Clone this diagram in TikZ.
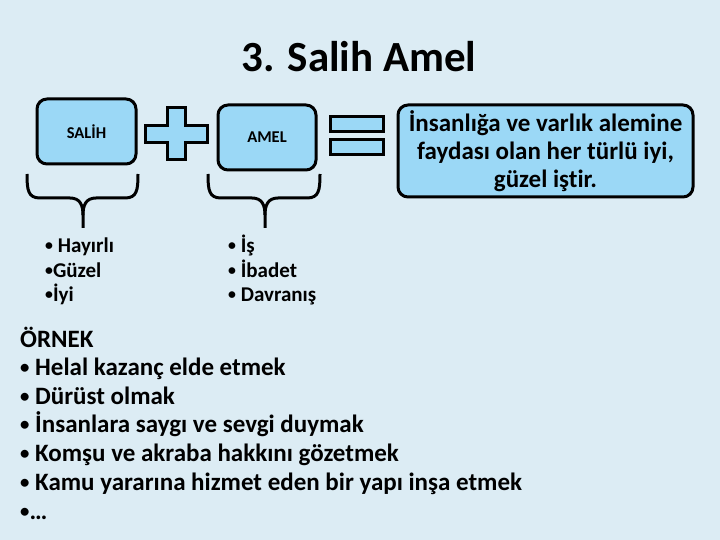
\documentclass[tikz,border=0pt]{standalone}
\usepackage{fontspec}
\setmainfont[Ligatures=NoCommon]{Carlito}
\definecolor{slidebg}{RGB}{220,236,244}
\definecolor{boxfill}{RGB}{155,216,246}
\newcommand{\dotitem}{\raisebox{0.12ex}{\scalebox{0.75}{•}}}
\tikzset{
    termbox/.style={draw=black, line width=3pt, fill=boxfill, rounded corners=10pt, inner sep=0pt},
    opshape/.style={draw=black, line width=3pt, fill=boxfill},
    bracket/.style={draw=black, line width=3pt},
    item/.style={anchor=base west, inner sep=0pt, font=\bfseries\fontsize{21}{24}\selectfont},
    example/.style={anchor=base west, inner sep=0pt, font=\bfseries\fontsize{25}{29}\selectfont}
}
\begin{document}
\begin{tikzpicture}[x=1pt,y=-1pt]
                \fill[slidebg] (0,0) rectangle (720,540);
                \useasboundingbox (0,0) rectangle (720,540);

                \node (title) at (359,72) [anchor=base, inner sep=0pt, font=\bfseries\fontsize{43}{50}\selectfont] {3. Salih Amel};

                \node (salih) at (86.5,131.5) [termbox, minimum width=99pt, minimum height=65pt, font=\bfseries\fontsize{16.5}{19}\selectfont] {SALİH};
                \node (amel) at (267,137.5) [termbox, minimum width=98pt, minimum height=65pt, font=\bfseries\fontsize{16.5}{19}\selectfont] {AMEL};
                \node (result) at (545.5,151) [termbox, minimum width=295pt, minimum height=92pt, align=center, font=\bfseries\fontsize{25}{28}\selectfont] {İnsanlığa ve varlık alemine\\faydası olan her türlü iyi,\\güzel iştir.};

                % plus and equals
                \draw[opshape] (167,108) -- (185,108) -- (185,126) -- (207,126) -- (207,143) -- (185,143) -- (185,160) -- (167,160) -- (167,143) -- (145,143) -- (145,126) -- (167,126) -- cycle;
                \draw[opshape] (330,117) rectangle (383,132);
                \draw[opshape] (330,140) rectangle (383,155);

                % braces
                \draw[bracket] (27,174) .. controls (27,190) and (28,198) .. (40,198) -- (70,198) .. controls (80,198) and (83,205) .. (83,215) -- (83,228);
                \draw[bracket] (138,174) .. controls (138,190) and (137,198) .. (125,198) -- (96,198) .. controls (86,198) and (83,205) .. (83,215);
                \draw[bracket] (208,174) .. controls (208,190) and (209,198) .. (221,198) -- (252,198) .. controls (262,198) and (265,205) .. (265,215) -- (265,228);
                \draw[bracket] (320,174) .. controls (320,190) and (319,198) .. (307,198) -- (278,198) .. controls (268,198) and (265,205) .. (265,215);

                \node (hayirli) at (45,252) [item] {\dotitem{} Hayırlı};
                \node (guzel) at (45,277) [item] {\dotitem Güzel};
                \node (iyi) at (45,301) [item] {\dotitem İyi};
                \node (is) at (228,252) [item] {\dotitem{} İş};
                \node (ibadet) at (228,277) [item] {\dotitem{} İbadet};
                \node (davranis) at (228,301) [item] {\dotitem{} Davranış};

                \node (ornek) at (20,347) [example] {ÖRNEK};
                \node (ex1) at (20,375) [example] {\dotitem{} Helal kazanç elde etmek};
                \node (ex2) at (20,404) [example] {\dotitem{} Dürüst olmak};
                \node (ex3) at (20,432) [example] {\dotitem{} İnsanlara saygı ve sevgi duymak};
                \node (ex4) at (20,461) [example] {\dotitem{} Komşu ve akraba hakkını gözetmek};
                \node (ex5) at (20,490) [example] {\dotitem{} Kamu yararına hizmet eden bir yapı inşa etmek};
                \node (ex6) at (20,519) [example] {\dotitem…};
            \end{tikzpicture}
\end{document}
